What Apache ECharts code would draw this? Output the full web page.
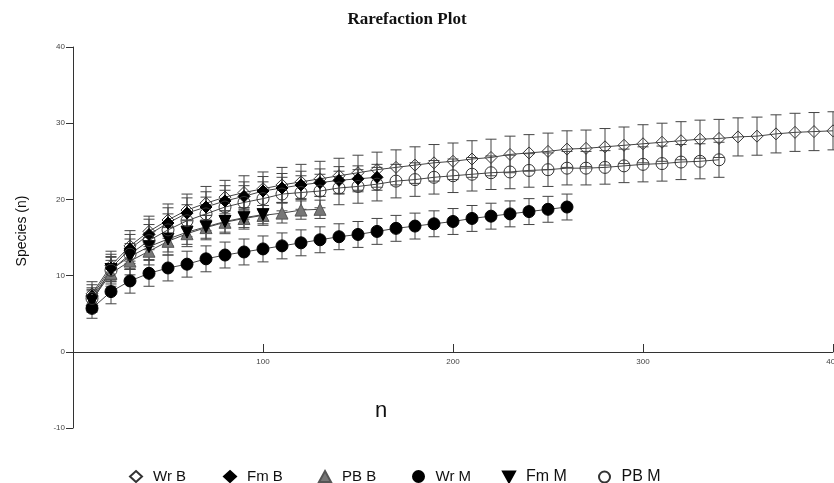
<!DOCTYPE html>
<html>
<head>
<meta charset="utf-8">
<script src="https://cdn.jsdelivr.net/npm/echarts@6/dist/echarts.min.js"></script>
<style>
html, body { margin: 0; padding: 0; background: #fff; }
#main { width: 834px; height: 483px; }
</style>
</head>
<body>
<div id="main"></div>
<script>
var myChart = echarts.init(document.getElementById('main'));

// sample sizes (n)
var sampleN = [10, 20, 30, 40, 50, 60, 70, 80, 90, 100, 110, 120, 130, 140, 150, 160, 170, 180, 190, 200,
    210, 220, 230, 240, 250, 260, 270, 280, 290, 300, 310, 320, 330, 340, 350, 360, 370, 380, 390, 400];

var seriesNames = ['Wr B', 'Fm B', 'PB B', 'Wr M', 'Fm M', 'PB M'];

var wrB = [7.6, 11.3, 13.9, 15.8, 17.3, 18.6, 19.5, 20.3, 20.9, 21.4, 21.9, 22.3, 22.7, 23.1, 23.5, 23.9, 24.2, 24.5, 24.8, 25.0,
    25.3, 25.5, 25.9, 26.1, 26.3, 26.6, 26.7, 26.9, 27.1, 27.3, 27.5, 27.7, 27.9, 28.0, 28.2, 28.3, 28.6, 28.8, 28.9, 29.0];
var fmB = [7.3, 11.0, 13.5, 15.4, 16.9, 18.2, 19.0, 19.8, 20.4, 21.1, 21.5, 21.9, 22.2, 22.5, 22.7, 22.9];
var pbB = [6.8, 10.3, 11.9, 13.2, 14.5, 15.5, 16.3, 17.0, 17.5, 17.9, 18.2, 18.6, 18.7];
var wrM = [5.7, 7.9, 9.3, 10.3, 11.0, 11.5, 12.2, 12.7, 13.1, 13.5, 13.9, 14.3, 14.7, 15.1, 15.4, 15.8, 16.2, 16.5, 16.8, 17.1,
    17.5, 17.8, 18.1, 18.4, 18.7, 19.0];
var fmM = [6.6, 10.8, 12.5, 13.8, 14.8, 15.7, 16.4, 17.1, 17.6, 18.0];
var pbM = [7.0, 10.7, 12.8, 14.6, 16.0, 17.2, 18.1, 19.0, 19.6, 20.1, 20.7, 20.9, 21.1, 21.5, 21.7, 22.0, 22.4, 22.6, 22.9, 23.1,
    23.3, 23.5, 23.6, 23.8, 23.9, 24.1, 24.1, 24.2, 24.4, 24.6, 24.7, 24.9, 25.0, 25.2];

// +/- error (species)
var wrBErr = [1.6, 1.9, 2.0, 2.0, 2.1, 2.1, 2.2, 2.2, 2.2, 2.2, 2.3, 2.3, 2.3, 2.3, 2.3, 2.3, 2.3, 2.4, 2.4, 2.4,
    2.4, 2.4, 2.4, 2.4, 2.4, 2.4, 2.4, 2.4, 2.4, 2.5, 2.5, 2.5, 2.5, 2.5, 2.5, 2.5, 2.5, 2.5, 2.5, 2.5];
var fmBErr = [1.5, 1.8, 1.9, 2.0, 2.0, 2.0, 2.0, 2.0, 1.9, 1.9, 1.9, 1.8, 1.8, 1.8, 1.7, 1.7];
var pbBErr = [1.4, 1.7, 1.8, 1.8, 1.8, 1.7, 1.6, 1.5, 1.4, 1.3, 1.3, 1.2, 1.2];
var wrMErr = [1.3, 1.6, 1.6, 1.7, 1.7, 1.7, 1.7, 1.7, 1.7, 1.7, 1.7, 1.7, 1.7, 1.7, 1.7, 1.7, 1.7, 1.7, 1.7, 1.7,
    1.7, 1.7, 1.7, 1.7, 1.7, 1.7];
var fmMErr = [1.4, 1.6, 1.7, 1.7, 1.7, 1.6, 1.5, 1.4, 1.3, 1.2];
var pbMErr = [1.4, 1.8, 2.0, 2.1, 2.1, 2.1, 2.2, 2.2, 2.2, 2.2, 2.2, 2.2, 2.2, 2.2, 2.2, 2.2, 2.2, 2.2, 2.2, 2.2,
    2.2, 2.2, 2.2, 2.2, 2.2, 2.2, 2.2, 2.2, 2.2, 2.3, 2.3, 2.3, 2.3, 2.3];

var allValues = [wrB, fmB, pbB, wrM, fmM, pbM];
var allErrors = [wrBErr, fmBErr, pbBErr, wrMErr, fmMErr, pbMErr];

var downTri = 'path://M0,0 L10,0 L5,9 Z';
var symbols = ['diamond', 'diamond', 'triangle', 'circle', downTri, 'circle'];
var fills = ['rgba(255,255,255,0)', '#000', '#777', '#000', '#000', 'rgba(255,255,255,0)'];
var borders = ['#333', '#000', '#555', '#000', '#000', '#333'];
var sizes = [12, 12, 12, 12, 12, 12];

function pairs(vals) {
    return vals.map(function (v, i) { return [sampleN[i], v]; });
}

function errData(vals, errs) {
    return vals.map(function (v, i) { return [sampleN[i], v - errs[i], v + errs[i]]; });
}

function renderErr(params, api) {
    var x = api.value(0);
    var lo = api.coord([x, api.value(1)]);
    var hi = api.coord([x, api.value(2)]);
    var half = 5.5;
    var style = { stroke: '#444', lineWidth: 1 };
    return {
        type: 'group',
        children: [
            { type: 'line', shape: { x1: lo[0], y1: lo[1], x2: hi[0], y2: hi[1] }, style: style },
            { type: 'line', shape: { x1: lo[0] - half, y1: lo[1], x2: lo[0] + half, y2: lo[1] }, style: style },
            { type: 'line', shape: { x1: hi[0] - half, y1: hi[1], x2: hi[0] + half, y2: hi[1] }, style: style }
        ]
    };
}

var series = [];
seriesNames.forEach(function (name, i) {
    series.push({
        type: 'custom',
        name: name + ' err',
        renderItem: renderErr,
        data: errData(allValues[i], allErrors[i]),
        z: 1,
        silent: true
    });
});
seriesNames.forEach(function (name, i) {
    series.push({
        type: 'line',
        name: name,
        data: pairs(allValues[i]),
        symbol: symbols[i],
        symbolSize: sizes[i],
        showAllSymbol: true,
        lineStyle: { color: '#444', width: 1 },
        itemStyle: { color: fills[i], borderColor: borders[i], borderWidth: 1 },
        z: 3
    });
});

// one legend per entry so each can sit where it does in the original
var legendLeft = [124, 218, 313, 407, 497, 593];
var legendFont = [15, 15, 15, 15, 16, 16];
var legends = seriesNames.map(function (name, i) {
    return {
        top: 464,
        left: legendLeft[i],
        itemWidth: 12,
        itemHeight: 11,
        textStyle: { fontFamily: 'Liberation Sans', fontSize: legendFont[i], color: '#111', padding: [0, 0, 0, 6] },
        data: [{ name: name, icon: symbols[i] }]
    };
});

var option = {
    animation: false,
    title: {
        text: 'Rarefaction Plot',
        left: 402,
        textAlign: 'center',
        top: 6,
        textStyle: { fontFamily: 'Liberation Serif', fontSize: 17, fontWeight: 'bold', color: '#111' }
    },
    legend: legends,
    grid: { left: 73, right: 1, top: 47, bottom: 55, outerBoundsMode: 'none', containLabel: false },
    xAxis: {
        type: 'value',
        min: 0,
        max: 400,
        interval: 100,
        offset: -76,
        name: 'n',
        nameLocation: 'middle',
        nameGap: 48,
        nameTextStyle: { fontFamily: 'Liberation Sans', fontSize: 22, color: '#111', padding: [0, 144, 0, 0] },
        axisLine: { onZero: false, lineStyle: { color: '#333', width: 1 } },
        axisTick: { inside: true, length: 8, lineStyle: { color: '#333' } },
        axisLabel: {
            fontSize: 8, color: '#444', margin: 6,
            formatter: function (v) { return v === 0 ? '' : v; }
        },
        splitLine: { show: false }
    },
    yAxis: {
        type: 'value',
        min: -10,
        max: 40,
        interval: 10,
        name: 'Species (n)',
        nameLocation: 'middle',
        nameGap: 44,
        nameRotate: 90,
        nameTextStyle: { fontFamily: 'Liberation Sans', fontSize: 14, color: '#111', padding: [0, 0, 0, 13] },
        axisLine: { show: true, lineStyle: { color: '#333', width: 1 } },
        axisTick: { show: true, length: 7, lineStyle: { color: '#333' } },
        axisLabel: { fontSize: 8, color: '#444', margin: 8 },
        splitLine: { show: false }
    },
    series: series
};

myChart.setOption(option);
</script>
</body>
</html>
